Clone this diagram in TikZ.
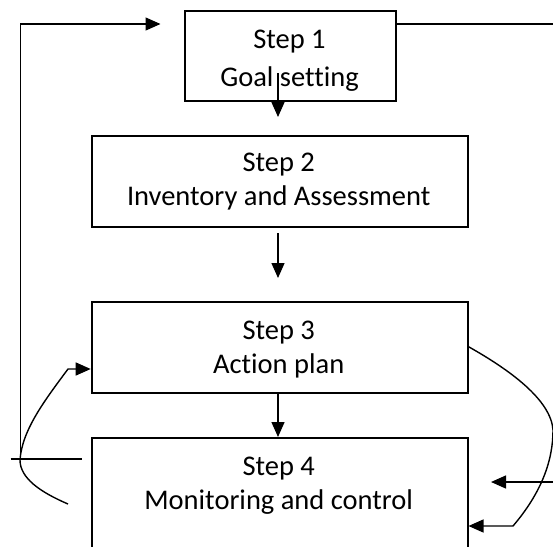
\documentclass[tikz,border=0pt]{standalone}
\usepackage{fontspec}
\setmainfont[Ligatures=NoCommon]{Carlito}
\usetikzlibrary{arrows.meta}
\tikzset{
  stepbox/.style={draw=black, line width=1.8pt, rectangle, inner sep=0pt, anchor=north west},
  steptext/.style={anchor=base, inner sep=0pt, font=\fontsize{28.5}{34}\selectfont},
  conn/.style={draw=black, line width=1.4pt},
  arr/.style={conn, -{Triangle[length=15pt,width=13pt]}}
}
\begin{document}
\begin{tikzpicture}[x=1pt,y=-1pt]
\useasboundingbox (0,0) rectangle (553,546);
\clip (0,0) rectangle (553,546);
% boxes
\node[stepbox, minimum width=211pt, minimum height=90pt] (s1) at (184,10) {};
\node[stepbox, minimum width=376pt, minimum height=91pt] (s2) at (90.7,135) {};
\node[stepbox, minimum width=376pt, minimum height=91pt] (s3) at (90.7,301) {};
\node[stepbox, minimum width=376pt, minimum height=130pt] (s4) at (90.7,437) {};
% texts
\node[steptext] (t1a) at (289.5,48) {Step 1};
\node[steptext] (t1b) at (289.5,86) {Goal setting};
\node[steptext] (t2a) at (278.7,171) {Step 2};
\node[steptext] (t2b) at (278.7,205) {Inventory and Assessment};
\node[steptext] (t3a) at (278.7,339) {Step 3};
\node[steptext] (t3b) at (278.7,373) {Action plan};
\node[steptext] (t4a) at (278.7,475) {Step 4};
\node[steptext] (t4b) at (278.7,509) {Monitoring and control};
% helper coordinates
\coordinate (a1s) at (278,73);
\coordinate (a1e) at (278,117);
\coordinate (a2s) at (278,233);
\coordinate (a2e) at (278,278);
\coordinate (loopB) at (20.7,459);
\coordinate (loopT) at (20.7,24);
\coordinate (loopE) at (160.5,24);
\coordinate (barL) at (10.7,459);
\coordinate (barR) at (82,459);
\coordinate (topR) at (553,24);
\coordinate (lcS) at (68,504);
\coordinate (lcM) at (20,460);
\coordinate (lcT) at (68,369);
\coordinate (rcM) at (553,430);
\coordinate (rcE) at (513,526);
\coordinate (inS) at (553,482);
\coordinate (inE) at (491,482);
% connectors
\draw[arr] (a1s) -- (a1e);
\draw[arr] (a2s) -- (a2e);
\draw[arr] (s3.south -| a2s) -- (s4.north -| a2s);
\draw[arr] (loopB) -- (loopT) -- (loopE);
\draw[conn] (barL) -- (barR);
\draw[conn] (s1.east |- topR) -- (topR);
\draw[arr] (lcS) .. controls (40,492) and (20,478) .. (lcM)
  .. controls (22,430) and (45,400) .. (lcT) -- (s3.west |- lcT);
\draw[arr] (s3.east |- 0,346.7) .. controls (510,370) and (551,400) .. (rcM)
  .. controls (553,460) and (542,492) .. (rcE) -- (s4.east |- rcE);
\draw[arr] (inS) -- (inE);
\end{tikzpicture}
\end{document}
